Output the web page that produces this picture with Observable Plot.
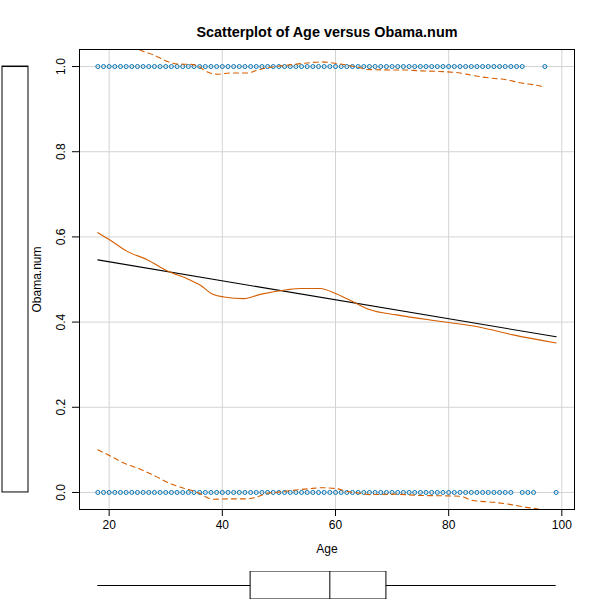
<!DOCTYPE html>
<html>
<head>
<meta charset="utf-8">
<script src="https://cdn.jsdelivr.net/npm/d3@7"></script>
<script src="https://cdn.jsdelivr.net/npm/@observablehq/plot@0.6"></script>
<style>
  html, body { margin: 0; padding: 0; background: white; }
  #chart { position: relative; width: 600px; height: 600px; font-family: "Liberation Sans", Arial, sans-serif; }
  #chart svg { position: absolute; }
</style>
</head>
<body>
<div id="chart"></div>
<script>
// ---- data ----
const titleText = "Scatterplot of Age versus Obama.num";
const xLabel = "Age";
const yLabel = "Obama.num";
const xTicks = [20, 40, 60, 80, 100];
const yTicks = [0, 0.2, 0.4, 0.6, 0.8, 1.0];

// ages observed with Obama.num = 1
const ages1 = [18,19,20,21,22,23,24,25,26,27,28,29,30,31,32,33,34,35,36,37,38,39,40,41,42,43,44,45,46,47,48,49,50,51,52,53,54,55,56,57,58,59,60,61,62,63,64,65,66,67,68,69,70,71,72,73,74,75,76,77,78,79,80,81,82,83,84,85,86,87,88,89,90,91,92,93,97];
// ages observed with Obama.num = 0
const ages0 = [18,19,20,21,22,23,24,25,26,27,28,29,30,31,32,33,34,35,36,37,38,39,40,41,42,43,44,45,46,47,48,49,50,51,52,53,54,55,56,57,58,59,60,61,62,63,64,65,66,67,68,69,70,71,72,73,74,75,76,77,78,79,80,81,82,83,84,85,86,87,88,89,90,91,93,94,95,99];

// linear regression line (end points)
const regAge = [18, 99];
const regFit = [0.546, 0.3655];

// loess smooth
const loessAge = [18,20,23.2,26.8,30.3,33.8,36.2,38.2,40.3,43.8,46.7,51.4,53.8,57.3,60.2,63.2,66.1,70.8,76.7,80,85.5,91.4,99];
const loessFit = [0.610,0.594,0.566,0.546,0.520,0.502,0.486,0.466,0.459,0.455,0.465,0.476,0.479,0.479,0.466,0.447,0.429,0.417,0.405,0.399,0.388,0.370,0.351];

// spread (dashed) upper
const upperAge = [18,22,25.3,27.9,30.3,32,34.4,35.9,36.7,39.1,41.4,44.4,46.1,47.9,49.4,52.6,55.5,57.6,59.1,60.8,62.6,64.4,65.5,70.2,72,74.9,79,82,84.3,87.3,90.2,92.6,95.5,97];
const upperVal = [1.12,1.075,1.04,1.027,1.012,1.006,1.005,1.0,0.992,0.982,0.985,0.985,0.991,0.997,1.0,1.005,1.009,1.011,1.009,1.006,1.002,0.997,0.993,0.992,0.992,0.990,0.988,0.985,0.979,0.973,0.969,0.962,0.956,0.952];
// spread (dashed) lower
const lowerAge = [18,19.7,22.6,25.6,28.5,30.9,33.2,35.6,37.3,38.5,40.9,44.4,46.1,47.9,49.4,52.6,55.5,57.6,60.2,61.9,64.4,66.1,70.2,74.9,79.6,82,84.3,87.9,90.8,93.7,96.1,97];
const lowerVal = [0.100,0.089,0.069,0.054,0.036,0.020,0.010,0.0,-0.012,-0.016,-0.015,-0.015,-0.011,-0.002,0.0,0.005,0.009,0.011,0.009,0.003,-0.002,-0.005,-0.004,-0.007,-0.008,-0.009,-0.019,-0.023,-0.028,-0.035,-0.040,-0.045];

// marginal boxplot statistics
const ageBox = {min: 18, q1: 45, median: 59, q3: 69, max: 99};
const obamaBox = {min: 0, q1: 0, median: 1, q3: 1, max: 1};

// ---- build ----
const pointColor = "#0072B2";
const smoothColor = "#D55E00";
const W = 600, H = 600;
const mL = 79, mR = 26, mT = 49, mB = 91;
const xDomain = [18 - 0.04 * 81, 99 + 0.04 * 81];
const yDomain = [-0.04, 1.04];

const pts = [
  ...ages1.map(a => ({age: a, obama: 1})),
  ...ages0.map(a => ({age: a, obama: 0}))
];
const zip = (xs, ys) => xs.map((x, i) => ({x, y: ys[i]}));
const reg = zip(regAge, regFit);
const loess = zip(loessAge, loessFit);
const upper = zip(upperAge, upperVal);
const lower = zip(lowerAge, lowerVal);

const chart = document.getElementById("chart");
const font = "Liberation Sans, Arial, sans-serif";

const main = Plot.plot({
  width: W, height: H,
  marginLeft: mL, marginRight: mR, marginTop: mT, marginBottom: mB,
  style: {fontFamily: font, fontSize: "12px", background: "white", color: "black"},
  x: {domain: xDomain},
  y: {domain: yDomain},
  marks: [
    Plot.gridX(xTicks, {stroke: "#d3d3d3", strokeOpacity: 1}),
    Plot.gridY(yTicks, {stroke: "#d3d3d3", strokeOpacity: 1}),
    Plot.axisX(xTicks, {tickSize: 7, tickPadding: 4, label: null, fontSize: 12, tickFormat: d => String(d)}),
    Plot.axisY(yTicks, {tickSize: 7, label: null, tickFormat: () => ""}),
    Plot.text(yTicks, {y: d => d, text: d => d.toFixed(1), frameAnchor: "left", dx: -18, rotate: -90, textAnchor: "middle", lineAnchor: "middle", fontSize: 12}),
    Plot.dot(pts, {x: "age", y: "obama", r: 2, stroke: pointColor, strokeWidth: 1, fill: "none"}),
    Plot.line(reg, {x: "x", y: "y", stroke: "black", strokeWidth: 1.1}),
    Plot.line(loess, {x: "x", y: "y", stroke: smoothColor, strokeWidth: 1.1, curve: "monotone-x"}),
    Plot.line(upper, {x: "x", y: "y", stroke: smoothColor, strokeWidth: 1.1, strokeDasharray: "5,4", curve: "monotone-x", clip: true}),
    Plot.line(lower, {x: "x", y: "y", stroke: smoothColor, strokeWidth: 1.1, strokeDasharray: "5,4", curve: "monotone-x", clip: true}),
    Plot.frame({stroke: "black"}),
    Plot.text([titleText], {frameAnchor: "top", dy: -17, lineAnchor: "middle", textAnchor: "middle", fontWeight: "bold", fontSize: 14.4}),
    Plot.text([xLabel], {frameAnchor: "bottom", dy: 40, lineAnchor: "middle", textAnchor: "middle", fontSize: 12}),
    Plot.text([yLabel], {frameAnchor: "left", dx: -42, rotate: -90, lineAnchor: "middle", textAnchor: "middle", fontSize: 12})
  ]
});
main.style.left = "0px"; main.style.top = "0px";
chart.appendChild(main);

// left marginal boxplot (Obama.num)
const leftBox = Plot.plot({
  width: 30, height: H,
  marginLeft: 2, marginRight: 2, marginTop: mT, marginBottom: mB,
  style: {background: "transparent"},
  x: {type: "point", domain: [yLabel], axis: null},
  y: {domain: yDomain, axis: null},
  marks: [
    Plot.ruleX([obamaBox], {x: () => yLabel, y1: "min", y2: "q1", stroke: "black"}),
    Plot.ruleX([obamaBox], {x: () => yLabel, y1: "q3", y2: "max", stroke: "black"}),
    Plot.rect([obamaBox], {y1: "q1", y2: "q3", fill: "none", stroke: "black"}),
    Plot.ruleY([obamaBox], {y: "median", stroke: "black"})
  ]
});
leftBox.style.left = "0px"; leftBox.style.top = "0px";
chart.appendChild(leftBox);

// bottom marginal boxplot (Age)
const bottomBox = Plot.plot({
  width: W, height: 28,
  marginLeft: mL, marginRight: mR, marginTop: 0, marginBottom: 0,
  style: {background: "transparent"},
  x: {domain: xDomain, axis: null},
  y: {type: "point", domain: [xLabel], axis: null},
  marks: [
    Plot.ruleY([ageBox], {y: () => xLabel, x1: "min", x2: "q1", stroke: "black"}),
    Plot.ruleY([ageBox], {y: () => xLabel, x1: "q3", x2: "max", stroke: "black"}),
    Plot.rect([ageBox], {x1: "q1", x2: "q3", fill: "white", stroke: "black"}),
    Plot.ruleX([ageBox], {x: "median", stroke: "black"})
  ]
});
bottomBox.style.left = "0px"; bottomBox.style.top = "571px";
chart.appendChild(bottomBox);
</script>
</body>
</html>
